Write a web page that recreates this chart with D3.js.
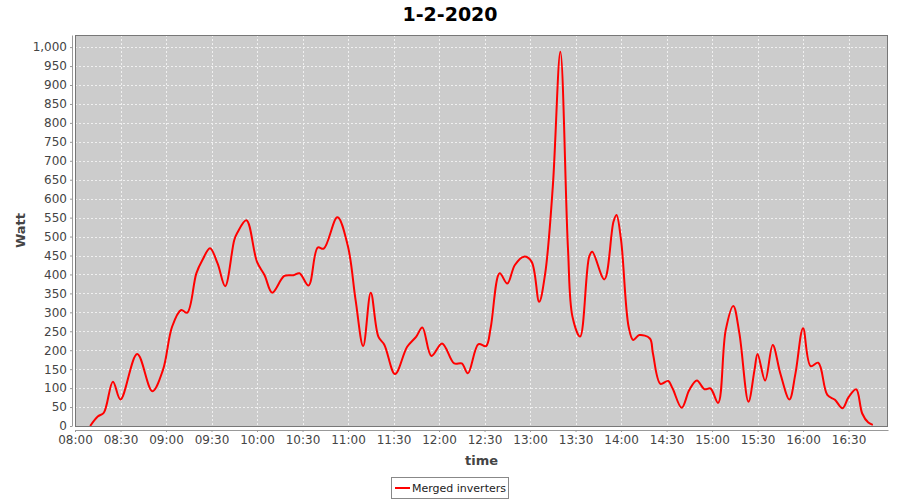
<!DOCTYPE html>
<html>
<head>
<meta charset="utf-8">
<script src="https://cdn.jsdelivr.net/npm/d3@7"></script>
<style>
  body { margin: 0; background: #fff; }
  text { font-family: "DejaVu Sans", sans-serif; }
</style>
</head>
<body>
<script>
var w = 900;
var h = 500;

var title = "1-2-2020";
var seriesName = "Merged inverters";

// readings of the day (time of day, watt)
var times = [
  "08:10", "08:15", "08:19", "08:25", "08:30", "08:41", "08:51", "08:58", "09:04", "09:10",
  "09:14", "09:20", "09:24", "09:29", "09:34", "09:39", "09:45", "09:47", "09:53", "10:00",
  "10:05", "10:10", "10:18", "10:24", "10:28", "10:34", "10:40", "10:44", "10:53", "11:00",
  "11:05", "11:10", "11:15", "11:20", "11:24", "11:31", "11:39", "11:45", "11:49", "11:55",
  "12:02", "12:10", "12:15", "12:19", "12:26", "12:31", "12:34", "12:40", "12:45", "12:50",
  "12:56", "13:01", "13:06", "13:10", "13:15", "13:20", "13:25", "13:28", "13:33", "13:39",
  "13:41", "13:49", "13:55", "13:57", "14:00", "14:05", "14:08", "14:12", "14:19", "14:21",
  "14:26", "14:31", "14:34", "14:40", "14:45", "14:50", "14:55", "14:59", "15:04", "15:09",
  "15:14", "15:18", "15:24", "15:28", "15:30", "15:35", "15:40", "15:45", "15:51", "15:55",
  "16:00", "16:05", "16:10", "16:16", "16:21", "16:26", "16:30", "16:35", "16:39", "16:43",
  "16:46"
];
var watts = [
  0, 25, 35, 117, 70, 190, 92, 148, 262, 306,
  299, 403, 438, 469, 429, 369, 491, 510, 543, 433,
  398, 352, 396, 398, 403, 371, 471, 468, 551, 473,
  332, 211, 352, 236, 214, 137, 209, 236, 260, 185,
  218, 165, 165, 139, 216, 211, 258, 403, 376, 425,
  447, 434, 328, 403, 631, 988, 469, 288, 236, 447,
  460, 387, 539, 557, 491, 262, 227, 240, 231, 192,
  111, 119, 99, 48, 95, 120, 97, 99, 61, 253,
  317, 245, 64, 148, 190, 120, 214, 139, 70, 139,
  258, 158, 167, 82, 69, 47, 76, 97, 33, 9,
  3
];

var yTicks = d3.range(0, 1001, 50);

var plotLeft = 75, plotRight = 888, plotTop = 35, plotBottom = 426;

var parseTime = d3.timeParse("%Y-%m-%d %H:%M");
var day = "2020-02-01 ";
var data = times.map(function(t, i) {
  return { t: parseTime(day + t), v: watts[i] };
});

var xScale = d3.scaleTime()
  .domain([parseTime(day + "08:00"), parseTime(day + "16:56")])
  .range([plotLeft, plotRight]);

var yScale = d3.scaleLinear()
  .domain([0, 1032])
  .range([plotBottom, plotTop]);

var svg = d3.select("body")
  .append("svg")
  .attr("width", w)
  .attr("height", h);

// plot background
svg.append("rect")
  .attr("x", plotLeft)
  .attr("y", plotTop)
  .attr("width", plotRight - plotLeft)
  .attr("height", plotBottom - plotTop)
  .attr("fill", "#cccccc");

var xTicks = d3.timeMinute.every(30).range(parseTime(day + "08:00"), parseTime(day + "16:31"));

// grid
svg.append("g")
  .selectAll("line")
  .data(yTicks)
  .enter()
  .append("line")
  .attr("x1", plotLeft)
  .attr("x2", plotRight)
  .attr("y1", function(d) { return Math.round(yScale(d)) + 0.5; })
  .attr("y2", function(d) { return Math.round(yScale(d)) + 0.5; })
  .attr("stroke", "#f0f0f0")
  .attr("stroke-dasharray", "2,2");

svg.append("g")
  .selectAll("line")
  .data(xTicks)
  .enter()
  .append("line")
  .attr("x1", function(d) { return Math.round(xScale(d)) + 0.5; })
  .attr("x2", function(d) { return Math.round(xScale(d)) + 0.5; })
  .attr("y1", plotTop)
  .attr("y2", plotBottom)
  .attr("stroke", "#f0f0f0")
  .attr("stroke-dasharray", "2,2");

// series, smoothed like a spline renderer
var line = d3.line()
  .x(function(d) { return xScale(d.t); })
  .y(function(d) { return yScale(d.v); })
  .curve(d3.curveCatmullRom.alpha(0.5));

svg.append("path")
  .datum(data)
  .attr("d", line)
  .attr("fill", "none")
  .attr("stroke", "#ff0000")
  .attr("stroke-width", 2);

// plot outline
svg.append("rect")
  .attr("x", plotLeft + 0.5)
  .attr("y", plotTop + 0.5)
  .attr("width", plotRight - plotLeft - 1)
  .attr("height", plotBottom - plotTop)
  .attr("fill", "none")
  .attr("stroke", "#777");

// axes
var xAxis = d3.axisBottom(xScale)
  .tickValues(xTicks)
  .tickFormat(d3.timeFormat("%H:%M"))
  .tickSizeInner(2)
  .tickSizeOuter(0)
  .tickPadding(3);

var yAxis = d3.axisLeft(yScale)
  .tickValues(yTicks)
  .tickFormat(d3.format(","))
  .tickSizeInner(2)
  .tickSizeOuter(0)
  .tickPadding(3);

var gx = svg.append("g")
  .attr("transform", "translate(0," + (plotBottom + 4) + ")")
  .call(xAxis);

var gy = svg.append("g")
  .attr("transform", "translate(" + (plotLeft - 3) + ",0)")
  .call(yAxis);

[gx, gy].forEach(function(g) {
  g.select(".domain").attr("stroke", "#999");
  g.selectAll(".tick line").attr("stroke", "#999");
  g.selectAll(".tick text")
    .attr("fill", "#444")
    .attr("font-family", "DejaVu Sans, sans-serif")
    .attr("font-size", "12px");
});

// titles
svg.append("text")
  .attr("x", w / 2)
  .attr("y", 21)
  .attr("text-anchor", "middle")
  .attr("font-size", "19px")
  .attr("font-weight", "bold")
  .attr("fill", "#000")
  .text(title);

svg.append("text")
  .attr("x", (plotLeft + plotRight) / 2)
  .attr("y", 465)
  .attr("text-anchor", "middle")
  .attr("font-size", "13px")
  .attr("font-weight", "bold")
  .attr("fill", "#444")
  .text("time");

svg.append("text")
  .attr("transform", "translate(25," + ((plotTop + plotBottom) / 2) + ") rotate(-90)")
  .attr("text-anchor", "middle")
  .attr("font-size", "13px")
  .attr("font-weight", "bold")
  .attr("fill", "#444")
  .text("Watt");

// legend
var legend = svg.append("g").attr("transform", "translate(391,477)");
legend.append("rect")
  .attr("x", 0.5)
  .attr("y", 0.5)
  .attr("width", 117)
  .attr("height", 21)
  .attr("fill", "#fff")
  .attr("stroke", "#888");
legend.append("line")
  .attr("x1", 4)
  .attr("x2", 19)
  .attr("y1", 11)
  .attr("y2", 11)
  .attr("stroke", "#ff0000")
  .attr("stroke-width", 2);
legend.append("text")
  .attr("x", 21)
  .attr("y", 15)
  .attr("font-size", "11px")
  .attr("fill", "#222")
  .text(seriesName);
</script>
</body>
</html>
